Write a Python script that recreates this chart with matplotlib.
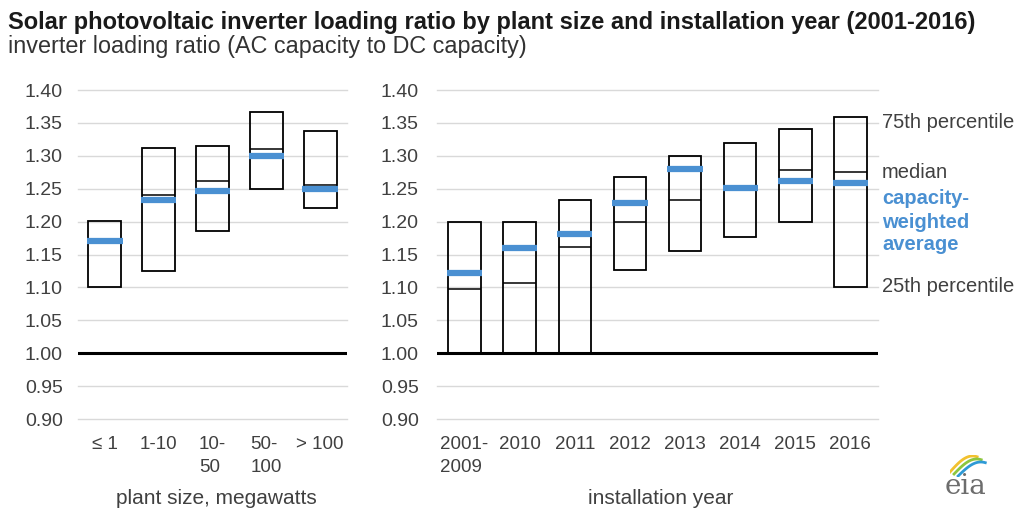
import matplotlib
matplotlib.use("Agg")
import matplotlib.pyplot as plt
import numpy as np

plt.rcParams['font.family'] = ['Liberation Sans', 'DejaVu Sans']

# ---- data ----
size_labels = ['≤ 1', '1-10', '10-\n50', '50-\n100', '> 100']
size_q25 = [1.100, 1.125, 1.185, 1.250, 1.221]
size_median = [1.170, 1.241, 1.262, 1.310, 1.255]
size_q75 = [1.201, 1.312, 1.315, 1.367, 1.337]
size_avg = [1.170, 1.233, 1.246, 1.300, 1.250]

year_labels = ['2001-\n2009', '2010', '2011', '2012', '2013', '2014', '2015', '2016']
year_q25 = [1.000, 1.000, 1.000, 1.126, 1.155, 1.177, 1.200, 1.100]
year_median = [1.097, 1.107, 1.161, 1.200, 1.233, 1.251, 1.279, 1.276]
year_q75 = [1.200, 1.200, 1.233, 1.268, 1.300, 1.320, 1.341, 1.359]
year_avg = [1.122, 1.160, 1.181, 1.229, 1.280, 1.251, 1.262, 1.259]

yticks = [0.90, 0.95, 1.00, 1.05, 1.10, 1.15, 1.20, 1.25, 1.30, 1.35, 1.40]

BLUE = '#4A90D2'
GRID = '#D9D9D9'
TXT = '#404040'

W, H = 1023, 515
fig = plt.figure(figsize=(W / 100, H / 100), dpi=100)


def px_axes(x0, x1, y0, y1):
    return fig.add_axes([x0 / W, 1 - y1 / H, (x1 - x0) / W, (y1 - y0) / H])


def draw_panel(ax, labels, q25, med, q75, avg, box_w, xlabel, pad):
    n = len(labels)
    x = np.arange(n)
    q25 = np.array(q25); q75 = np.array(q75)
    ax.set_xlim(-0.5, n - 0.5)
    ax.set_ylim(0.90, 1.40)
    ax.set_yticks(yticks)
    ax.set_yticklabels([f'{v:.2f}' for v in yticks])
    for v in yticks:
        if abs(v - 1.0) > 1e-9:
            ax.axhline(v, color=GRID, lw=1.0, zorder=0, clip_on=False)
    ax.bar(x, q75 - q25, bottom=q25, width=box_w, fill=False,
           edgecolor='black', lw=1.3, zorder=2)
    ax.hlines(med, x - box_w / 2, x + box_w / 2, color='black', lw=1.1, zorder=3)
    bw = box_w * 1.08
    ax.hlines(avg, x - bw / 2, x + bw / 2, color=BLUE, lw=4.5, zorder=4)
    ax.axhline(1.0, color='black', lw=2.2, zorder=5)
    for s in ax.spines.values():
        s.set_visible(False)
    ax.tick_params(axis='both', length=0, labelcolor=TXT)
    ax.tick_params(axis='y', labelsize=14, pad=pad)
    ax.set_xticks(x)
    ax.set_xticklabels(labels, fontsize=13.5, linespacing=1.45)
    for t in ax.get_xticklabels():
        t.set_multialignment('left')
    ax.tick_params(axis='x', pad=12)
    ax.set_xlabel(xlabel, fontsize=15, color=TXT, labelpad=12)


ax1 = px_axes(78, 347, 90, 419)
draw_panel(ax1, size_labels, size_q25, size_median, size_q75, size_avg,
           0.61, 'plant size, megawatts', 11)

ax2 = px_axes(437, 878, 90, 419)
draw_panel(ax2, year_labels, year_q25, year_median, year_q75, year_avg,
           0.59, 'installation year', 13)

# x-label positions
for ax, xc in ((ax1, 216), (ax2, 661)):
    pos = ax.get_position()
    ax.xaxis.set_label_coords((xc / W - pos.x0) / pos.width,
                              (1 - 498 / H - pos.y0) / pos.height)
    ax.xaxis.label.set_va('center')

# title
fig.text(8 / W, 1 - 23 / H, 'Solar photovoltaic inverter loading ratio by plant size and installation year (2001-2016)',
         fontsize=17, fontweight='bold', color='#1a1a1a', va='center', ha='left')
fig.text(8 / W, 1 - 47 / H, 'inverter loading ratio (AC capacity to DC capacity)',
         fontsize=16.8, color='#333333', va='center', ha='left')

# legend annotations
ann_x = 882 / W
fig.text(ann_x, 1 - 123 / H, '75th percentile', fontsize=14.5, color=TXT, va='center')
fig.text(ann_x, 1 - 173 / H, 'median', fontsize=14.5, color=TXT, va='center')
for yy, s in ((198, 'capacity-'), (222, 'weighted'), (245, 'average')):
    fig.text(ann_x, 1 - yy / H, s, fontsize=14.5, color=BLUE, fontweight='bold', va='center')
fig.text(ann_x, 1 - 287 / H, '25th percentile', fontsize=14.5, color=TXT, va='center')

# eia logo
fig.text(966 / W, 1 - 487 / H, 'eia', fontsize=20, color='#6d6d6d', family='DejaVu Serif',
         ha='center', va='center')
lax = fig.add_axes([950 / W, 1 - 477 / H, 38 / W, 22 / H])
lax.set_axis_off()
t = np.linspace(0.0, 1.0, 30)
lax.plot(t, 0.15 + 0.8 * np.sin(t * np.pi * 0.6), color='#F2C12E', lw=2)
lax.plot(t + 0.15, 0.05 + 0.75 * np.sin(t * np.pi * 0.6), color='#8DC63F', lw=2)
lax.plot(t + 0.3, -0.05 + 0.7 * np.sin(t * np.pi * 0.6), color='#2E9AD6', lw=2)
lax.set_xlim(0, 1.4)
lax.set_ylim(-0.1, 1)

fig.savefig('out.png', dpi=100)
